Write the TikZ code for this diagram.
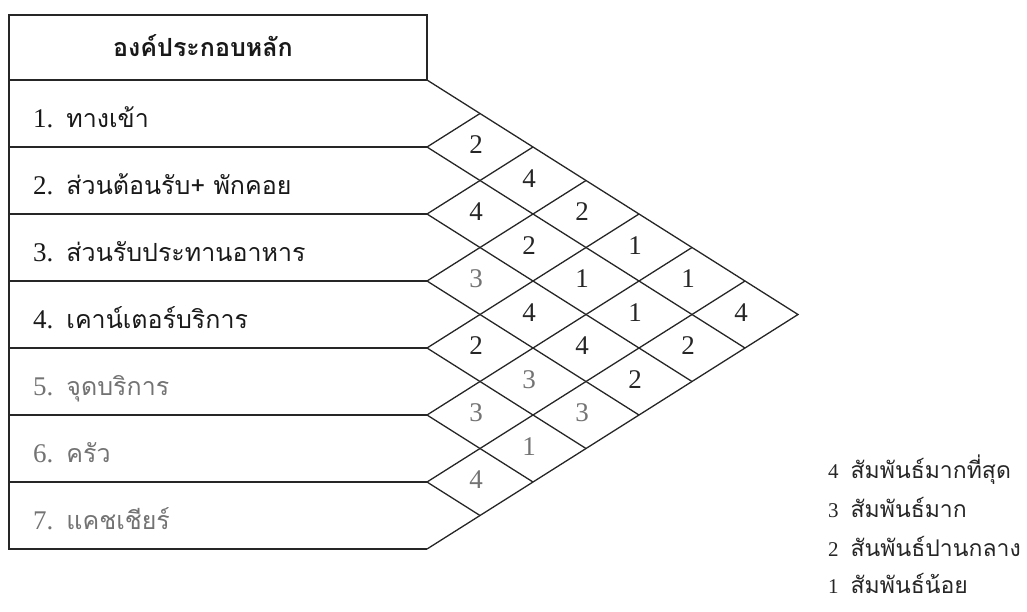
\documentclass[tikz,border=0pt]{standalone}
\usepackage{fontspec}
\setmainfont{Liberation Serif}
\newfontfamily\thaifont[Script=Thai]{Loma}

\newcommand{\rowlbl}[2]{#1.\hspace{13pt}{\thaifont\fontsize{25}{28}\selectfont #2}}
\newcommand{\lgd}[2]{#1\hspace{12pt}{\thaifont\fontsize{23}{26}\selectfont #2}}

\begin{document}
\begin{tikzpicture}[
  x=1pt, y=-1pt,
  line/.style={draw=black!85, line width=1.3pt},
  head/.style={font=\thaifont\bfseries\fontsize{25}{28}\selectfont, text=black!90},
  rowtext/.style={anchor=base west, inner sep=0pt, font=\fontsize{27}{30}\selectfont, text=black!90},
  pale/.style={text=black!55},
  num/.style={inner sep=0pt, xshift=-4pt, yshift=2pt, font=\fontsize{27}{30}\selectfont, text=black!85},
  key/.style={anchor=base west, inner sep=0pt, font=\fontsize{21}{24}\selectfont, text=black!85}
]
\useasboundingbox (0,0) rectangle (1027,611);

% row boundaries and the tip of the grid
\coordinate (p0) at (427,80);
\coordinate (p1) at (427,147);
\coordinate (p2) at (427,214);
\coordinate (p3) at (427,281);
\coordinate (p4) at (427,348);
\coordinate (p5) at (427,415);
\coordinate (p6) at (427,482);
\coordinate (p7) at (427,549);
\coordinate (apex) at (798,314.5);

% table
\draw[line] (9,15) rectangle (p0);
\node[head] (head) at (203,46) {องค์ประกอบหลัก};
\draw[line] (p0) -- (9,80) -- (9,549) -- (p7);
\draw[line] (9,147) -- (p1);
\draw[line] (9,214) -- (p2);
\draw[line] (9,281) -- (p3);
\draw[line] (9,348) -- (p4);
\draw[line] (9,415) -- (p5);
\draw[line] (9,482) -- (p6);

\node[rowtext] (r1) at (33,127) {\rowlbl{1}{ทางเข้า}};
\node[rowtext] (r2) at (33,194) {\rowlbl{2}{ส่วนต้อนรับ+ พักคอย}};
\node[rowtext] (r3) at (33,261) {\rowlbl{3}{ส่วนรับประทานอาหาร}};
\node[rowtext] (r4) at (33,328) {\rowlbl{4}{เคาน์เตอร์บริการ}};
\node[rowtext, pale] (r5) at (33,395) {\rowlbl{5}{จุดบริการ}};
\node[rowtext, pale] (r6) at (33,462) {\rowlbl{6}{ครัว}};
\node[rowtext, pale] (r7) at (33,529) {\rowlbl{7}{แคชเชียร์}};

% diamond grid
\draw[line] (p0) -- (apex) -- (p7);
\draw[line] (p1) ++(53,-33.5) -- (p1) -- ++(318,201);
\draw[line] (p2) ++(106,-67) -- (p2) -- ++(265,167.5);
\draw[line] (p3) ++(159,-100.5) -- (p3) -- ++(212,134);
\draw[line] (p4) ++(212,-134) -- (p4) -- ++(159,100.5);
\draw[line] (p5) ++(265,-167.5) -- (p5) -- ++(106,67);
\draw[line] (p6) ++(318,-201) -- (p6) -- ++(53,33.5);

% ratings
\node[num] (n12) at (480,147) {2};
\node[num] (n13) at (533,180.5) {4};
\node[num] (n14) at (586,214) {2};
\node[num] (n15) at (639,247.5) {1};
\node[num] (n16) at (692,281) {1};
\node[num] (n17) at (745,314.5) {4};
\node[num] (n23) at (480,214) {4};
\node[num] (n24) at (533,247.5) {2};
\node[num] (n25) at (586,281) {1};
\node[num] (n26) at (639,314.5) {1};
\node[num] (n27) at (692,348) {2};
\node[num, pale] (n34) at (480,281) {3};
\node[num] (n35) at (533,314.5) {4};
\node[num] (n36) at (586,348) {4};
\node[num] (n37) at (639,381.5) {2};
\node[num] (n45) at (480,348) {2};
\node[num, pale] (n46) at (533,381.5) {3};
\node[num, pale] (n47) at (586,415) {3};
\node[num, pale] (n56) at (480,415) {3};
\node[num, pale] (n57) at (533,448.5) {1};
\node[num, pale] (n67) at (480,482) {4};

% key
\node[key] (k4) at (828,478) {\lgd{4}{สัมพันธ์มากที่สุด}};
\node[key] (k3) at (828,517) {\lgd{3}{สัมพันธ์มาก}};
\node[key] (k2) at (828,556) {\lgd{2}{สันพันธ์ปานกลาง}};
\node[key] (k1) at (828,593) {\lgd{1}{สัมพันธ์น้อย}};

\end{tikzpicture}
\end{document}
